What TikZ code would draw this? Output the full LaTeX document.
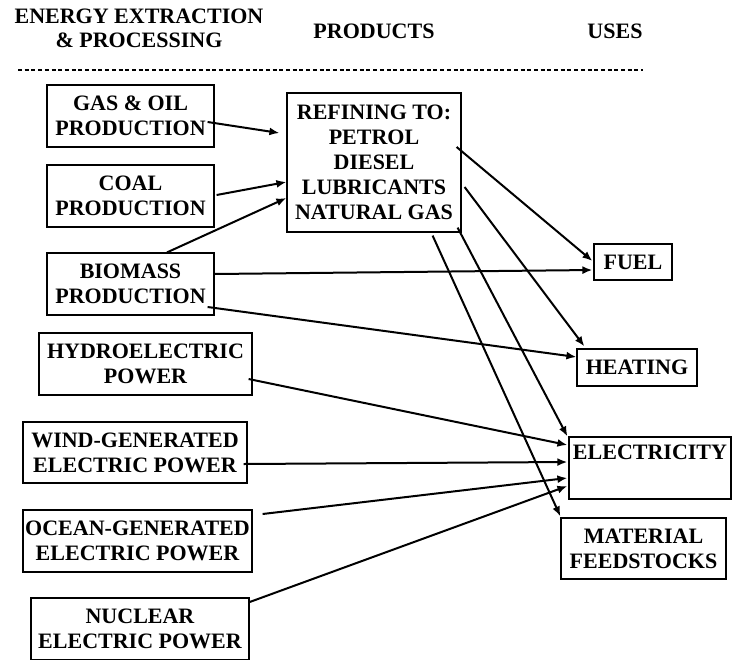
\documentclass[tikz,border=0pt]{standalone}
\usepackage{fontspec}
\setmainfont{Liberation Serif}
\usetikzlibrary{arrows.meta,calc}
\tikzset{
  box/.style={draw, line width=1.2pt, inner sep=0pt, align=center, anchor=center,
    font=\bfseries\fontsize{22}{25}\selectfont},
  hdr/.style={inner sep=0pt, align=center, font=\bfseries\fontsize{22}{24}\selectfont},
  arr/.style={line width=2pt, -{Latex[length=10pt,width=8pt]}},
}
\begin{document}
\begin{tikzpicture}[x=1pt,y=-1pt]
\useasboundingbox (0,0) rectangle (733,659);
% header
\node[hdr, anchor=base] (h1) at (139,23) {ENERGY EXTRACTION};
\node[hdr, anchor=base] (h2) at (139,47) {\& PROCESSING};
\node[hdr, anchor=base] (h3) at (374,38) {PRODUCTS};
\node[hdr, anchor=base] (h4) at (615,38) {USES};
\coordinate (dl) at (18,70);
\coordinate (dr) at (643,70);
\draw[line width=1.4pt, dash pattern=on 4pt off 2.7pt] (dl) -- (dr);
% source boxes
\node[box, minimum width=167, minimum height=62] (gas) at (130.5,116) {GAS \& OIL\\PRODUCTION};
\node[box, minimum width=167, minimum height=62] (coal) at (130.5,196) {COAL\\PRODUCTION};
\node[box, minimum width=167, minimum height=62] (bio) at (130.5,284) {BIOMASS\\PRODUCTION};
\node[box, minimum width=213, minimum height=62] (hydro) at (145.5,364) {HYDROELECTRIC\\POWER};
\node[box, minimum width=224, minimum height=61] (wind) at (135,452.5) {WIND-GENERATED\\ELECTRIC POWER};
\node[box, minimum width=229, minimum height=62] (ocean) at (137.5,541) {OCEAN-GENERATED\\ELECTRIC POWER};
\node[box, minimum width=218, minimum height=62] (nuc) at (140,629) {NUCLEAR\\ELECTRIC POWER};
% products
\node[box, minimum width=174, minimum height=139] (ref) at (374,162.5) {REFINING TO:\\PETROL\\DIESEL\\LUBRICANTS\\NATURAL GAS};
% uses
\node[box, minimum width=78, minimum height=36] (fuel) at (633,262) {FUEL};
\node[box, minimum width=120, minimum height=37] (heat) at (637,367.5) {HEATING};
\node[box, minimum width=162, minimum height=62] (elec) at (650,468) {ELECTRICITY\\\strut};
\node[box, minimum width=165, minimum height=61] (mat) at (643.5,548.5) {MATERIAL\\FEEDSTOCKS};
% arrows
\draw[arr] ($(gas.east)+(-7,6)$) -- ($(ref.west)+(-7,-29.5)$);
\draw[arr] ($(coal.east)+(2,-1)$) -- ($(ref.west)+(0,19.5)$);
\draw[arr] ($(bio.north)+(36.5,0)$) -- ($(ref.west)+(0,35.5)$);
\draw[arr] ($(bio.east)+(0,-10)$) -- ($(fuel.west)+(-1,8)$);
\draw[arr] ($(bio.east)+(-7,23)$) -- ($(heat.west)+(0,-10.5)$);
\draw[arr] ($(ref.east)+(-5,-15.5)$) -- ($(fuel.west)+(-1,-1)$);
\draw[arr] ($(ref.east)+(3,24.5)$) -- ($(heat.north west)+(8,-2)$);
\draw[arr] ($(ref.south east)+(-4,-5)$) -- ($(elec.north west)+(-1,0)$);
\draw[arr] ($(ref.south east)+(-29,3)$) -- ($(mat.north west)+(0,-1)$);
\draw[arr] ($(hydro.east)+(-4,15)$) -- ($(elec.west)+(-1,-23)$);
\draw[arr] ($(wind.east)+(-4,11.5)$) -- ($(elec.west)+(-1,-6)$);
\draw[arr] ($(ocean.east)+(10,-27)$) -- ($(elec.west)+(-1,10)$);
\draw[arr] ($(nuc.north east)+(-1,5)$) -- ($(elec.west)+(-1,18)$);
\end{tikzpicture}
\end{document}
